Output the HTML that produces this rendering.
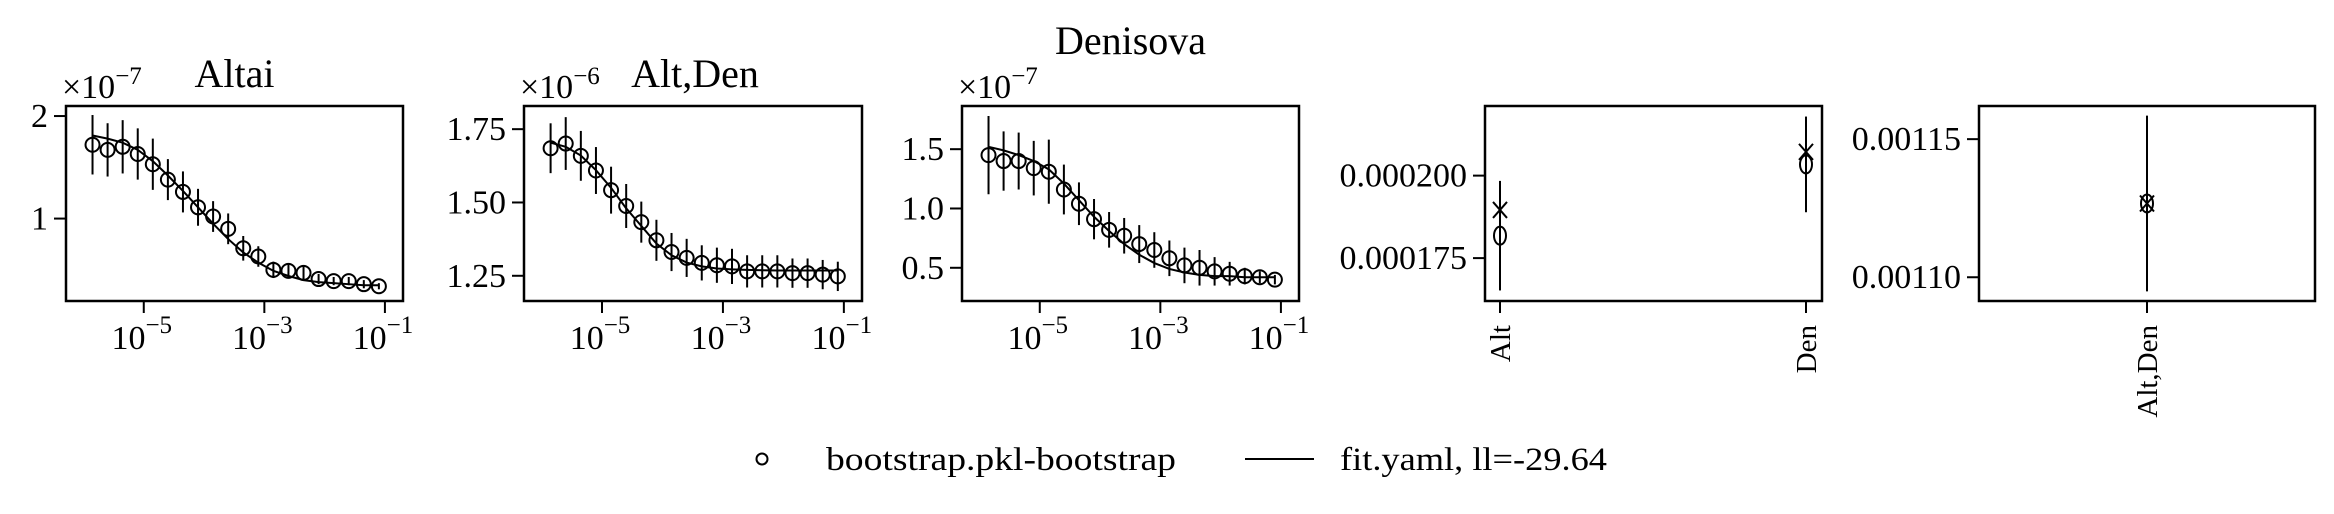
<!DOCTYPE html>
<html><head><meta charset="utf-8"><style>
html,body{margin:0;padding:0;background:#fff;}
svg{display:block;font-family:"Liberation Serif","DejaVu Serif",serif;}
</style></head><body>
<svg id="fig" width="2334" height="514" viewBox="0 0 2334 514" xmlns="http://www.w3.org/2000/svg"></svg>
<script>
// ---- data ----
const logX = [-5.85,-5.6,-5.35,-5.1,-4.85,-4.6,-4.35,-4.1,-3.85,-3.6,-3.35,-3.1,-2.85,-2.6,-2.35,-2.1,-1.85,-1.6,-1.35,-1.1];
const altaiObs = [1.72,1.67,1.70,1.63,1.53,1.38,1.26,1.11,1.02,0.90,0.71,0.63,0.50,0.49,0.47,0.41,0.39,0.39,0.36,0.34];
const altaiErr = [0.29,0.26,0.26,0.25,0.25,0.20,0.20,0.18,0.15,0.15,0.12,0.10,0.08,0.07,0.07,0.05,0.04,0.04,0.04,0.03];
const altaiFit = [1.81,1.78,1.74,1.67,1.56,1.42,1.27,1.11,0.95,0.80,0.67,0.57,0.49,0.44,0.40,0.38,0.37,0.36,0.35,0.35];
const altdenObs = [1.685,1.701,1.659,1.609,1.542,1.488,1.433,1.371,1.331,1.311,1.294,1.286,1.282,1.265,1.265,1.265,1.259,1.259,1.254,1.248];
const altdenErr = [0.085,0.09,0.085,0.08,0.08,0.075,0.07,0.07,0.065,0.065,0.06,0.06,0.06,0.055,0.055,0.055,0.05,0.05,0.05,0.05];
const altdenFit = [1.704,1.69,1.66,1.61,1.55,1.48,1.42,1.36,1.32,1.295,1.282,1.275,1.272,1.27,1.269,1.268,1.268,1.268,1.268,1.268];
const denObs = [1.45,1.40,1.40,1.34,1.31,1.16,1.04,0.91,0.82,0.77,0.70,0.65,0.58,0.52,0.50,0.47,0.45,0.43,0.42,0.40];
const denErr = [0.33,0.25,0.24,0.23,0.27,0.21,0.18,0.17,0.15,0.15,0.16,0.15,0.15,0.15,0.15,0.12,0.10,0.07,0.05,0.04];
const denFit = [1.52,1.49,1.45,1.40,1.33,1.21,1.07,0.93,0.81,0.70,0.61,0.54,0.49,0.46,0.44,0.43,0.43,0.42,0.42,0.42];
const hetCats = ["Alt","Den"];
const hetObs = [0.0001818,0.0002034];
const hetErr = [0.0000166,0.0000145];
const hetFit = [0.0001896,0.0002072];
const crossCats = ["Alt,Den"];
const crossObs = [0.0011267];
const crossErr = [0.0000318];
const crossFit = [0.0011267];
const xTickExp = [-5,-3,-1];
const altaiTicks = [1,2];
const altdenTicks = [1.25,1.50,1.75];
const denTicks = [0.5,1.0,1.5];
const hetTicks = [0.000175,0.000200];
const crossTicks = [0.00110,0.00115];

const NS="http://www.w3.org/2000/svg";
const svg=document.getElementById('fig');
function mk(tag,attrs,parent){const e=document.createElementNS(NS,tag);for(const k in attrs)e.setAttribute(k,attrs[k]);(parent||svg).appendChild(e);return e;}
function lin(d0,d1,r0,r1){return v=>r0+(v-d0)*(r1-r0)/(d1-d0);}

const TOP=106,BOT=301;
function frame(g,x0,x1){
  const r=mk('rect',{x:x0,y:TOP,width:x1-x0,height:BOT-TOP,fill:'none',stroke:'#000','stroke-width':2.5},g);
  
  
}
function yTicks(g,x0,ys,ticks,fmt){
  ticks.forEach(t=>{
    const y=ys(t);
    const l=mk('line',{x1:x0-12,x2:x0,y1:y,y2:y,stroke:'#000','stroke-width':2},g);
    
    
    const tx=mk('text',{x:x0-18,y:y+11,'font-size':34,'text-anchor':'end'},g);
    
    
    tx.textContent=fmt(t);
  });
}
function logPanel(name,x0,x1,ylo,yhi,obs,err,fit,ticks,fmt,expo,title,titleY){
  const g=mk('g',{});
  
  
  const xs=lin(-6.29,-0.70,x0,x1), ys=lin(ylo,yhi,BOT,TOP);
  const p=mk('polyline',{points:logX.map((lx,i)=>xs(lx)+','+ys(fit[i])).join(' '),fill:'none',stroke:'#000','stroke-width':2},g);
  
  
  logX.forEach((lx,i)=>{
    const x=xs(lx);
    const e=mk('line',{x1:x,x2:x,y1:ys(obs[i]-err[i]),y2:ys(obs[i]+err[i]),stroke:'#000','stroke-width':2},g);
    
    
    const c=mk('circle',{cx:x,cy:ys(obs[i]),r:7,fill:'none',stroke:'#000','stroke-width':2},g);
    
    
  });
  frame(g,x0,x1);
  yTicks(g,x0,ys,ticks,fmt);
  xTickExp.forEach(ex=>{
    const x=xs(ex);
    const l=mk('line',{x1:x,x2:x,y1:BOT,y2:BOT+12,stroke:'#000','stroke-width':2},g);
    
    
    const t=mk('text',{x:x-2,y:349,'font-size':34,'text-anchor':'middle'},g);
    
    
    t.appendChild(document.createTextNode('10'));
    const s=mk('tspan',{dy:-16,'font-size':25},t);
    s.textContent='\u2212'+(-ex);
  });
  const o=mk('text',{x:x0-4,y:98,'font-size':34},g);
  
  
  o.appendChild(document.createTextNode('\u00d710'));
  const os=mk('tspan',{dy:-14,'font-size':25},o);
  os.textContent='\u2212'+expo;
  const tt=mk('text',{x:(x0+x1)/2+(name==='alt-den'?2:0),y:titleY,'font-size':40,'text-anchor':'middle'},g);
  
  
  tt.textContent=title;
}
logPanel('altai',66,403,0.196,2.098,altaiObs,altaiErr,altaiFit,altaiTicks,v=>String(v),7,'Altai',87);
logPanel('alt-den',524,862,1.164,1.829,altdenObs,altdenErr,altdenFit,altdenTicks,v=>v.toFixed(2),6,'Alt,Den',87);
logPanel('denisova',962,1299,0.22,1.864,denObs,denErr,denFit,denTicks,v=>v.toFixed(1),7,'Denisova',54);

function catPanel(name,x0,x1,ylo,yhi,cats,obs,err,fit,ticks,fmt,catX){
  const g=mk('g',{});
  
  
  const ys=lin(ylo,yhi,BOT,TOP);
  cats.forEach((c,i)=>{
    const x=catX(i);
    const e=mk('line',{x1:x,x2:x,y1:ys(obs[i]-err[i]),y2:ys(obs[i]+err[i]),stroke:'#000','stroke-width':2},g);
    
    
    const ci=mk('ellipse',{cx:x,cy:ys(obs[i]),rx:6,ry:9,fill:'none',stroke:'#000','stroke-width':2},g);
    
    
    const fy=ys(fit[i]);
    const m=mk('path',{d:`M${x-7},${fy-8}L${x+7},${fy+8}M${x-7},${fy+8}L${x+7},${fy-8}`,stroke:'#000','stroke-width':2,fill:'none'},g);
    
    
    const l=mk('line',{x1:x,x2:x,y1:BOT,y2:BOT+12,stroke:'#000','stroke-width':2},g);
    
    
    const t=mk('text',{x:0,y:0,'font-size':29,'text-anchor':'end',transform:`translate(${x+10},325) rotate(-90)`},g);
    
    
    t.textContent=c;
  });
  frame(g,x0,x1);
  yTicks(g,x0,ys,ticks,fmt);
}
catPanel('heterozygosity',1485,1822,0.000162,0.0002211,hetCats,hetObs,hetErr,hetFit,hetTicks,v=>v.toFixed(6),i=>lin(0,1,1500,1806)(i));
catPanel('cross-divergence',1979,2315,0.0010914,0.001162,crossCats,crossObs,crossErr,crossFit,crossTicks,v=>v.toFixed(5),i=>2147);

// legend
const lg=mk('g',{});


const lc=mk('circle',{cx:762,cy:459,r:5.5,fill:'none',stroke:'#000','stroke-width':2},lg);


const lt1=mk('text',{x:826,y:470,'font-size':33,textLength:350,lengthAdjust:'spacingAndGlyphs'},lg);


lt1.textContent='bootstrap.pkl-bootstrap';
const ll=mk('line',{x1:1245,x2:1314,y1:459,y2:459,stroke:'#000','stroke-width':2},lg);


const lt2=mk('text',{x:1340,y:470,'font-size':33,textLength:267,lengthAdjust:'spacingAndGlyphs'},lg);


lt2.textContent='fit.yaml, ll=-29.64';
</script>
</body></html>
